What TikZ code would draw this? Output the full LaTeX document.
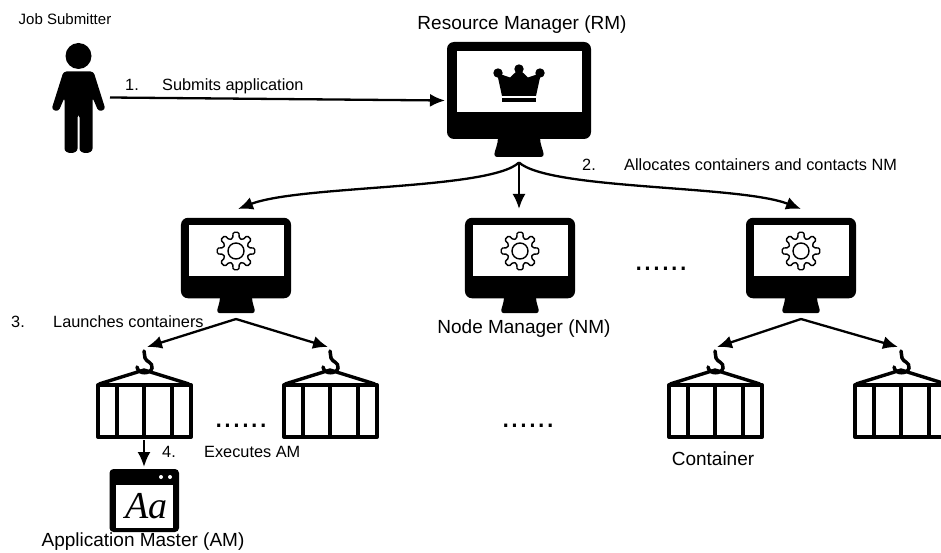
\documentclass[tikz,border=0pt]{standalone}
\usepackage{fontspec}
\setmainfont{Liberation Sans}
\newfontfamily\aafont{Liberation Serif}
\usetikzlibrary{arrows.meta}
\tikzstyle{biglabel}=[inner sep=0,text height=.72em,text depth=.21em,font=\fontsize{19}{19}\selectfont]
\tikzstyle{smalllabel}=[inner sep=0,text height=.72em,text depth=.21em,anchor=west,font=\fontsize{16.3}{16.3}\selectfont]
\tikzstyle{dots}=[inner sep=0,font=\fontsize{32}{32}\selectfont]
\tikzstyle{iconbox}=[inner sep=0,outer sep=0,rectangle]
\tikzset{rmbox/.style={iconbox,minimum width=148pt,minimum height=124pt}}
\tikzset{nmbox/.style={iconbox,minimum width=114pt,minimum height=110pt}}
\tikzset{crate/.style={iconbox,minimum width=96pt,minimum height=93pt}}
\tikzset{flow/.style={-{Latex[length=15pt,width=13pt]},line width=2.3pt}}
\tikzset{monitor/.pic={
    \fill[rounded corners=7pt] (-72,-57.5) rectangle (72,39.5);
    \fill[white] (-62,-48.5) rectangle (63,12.5);
    \fill[rounded corners=3pt] (-21,35) .. controls (-21,45) and (-24,50) .. (-25,57.5) -- (25,57.5) .. controls (24,50) and (21,45) .. (21,35) -- cycle;
}}
\tikzset{nodemanager/.pic={
    \pic[xscale=.764,yscale=.83] {monitor};
    \draw[line width=1.4pt,rounded corners=1.5pt,shift={(0,-14.5)}] (14:13) \foreach \a in {45,90,...,315} { -- (\a-14:13) -- (\a-9:19) -- (\a+9:19) -- (\a+14:13)} -- (346:13) -- (351:19) -- (369:19) -- cycle;
    \draw[line width=1.4pt,shift={(0,-14.5)}] (0,0) circle (8);
}}
\tikzset{crown/.pic={
    \fill (-21,-26.5) circle (4.7) (0,-30.5) circle (4.7) (21,-26.5) circle (4.7);
    \fill (-22,-26.5) -- (-9,-22) -- (0,-30.5) -- (9,-22) -- (22,-26.5) -- (17,-3.5) -- (-17,-3.5) -- cycle;
    \fill (-17,-1.5) rectangle (17,2.5);
}}
\tikzset{container/.pic={
    \draw[line width=4pt,line join=round] (-46,-8) rectangle (47,44);
    \draw[line width=3.8pt] (-27,-8) -- (-27,44) (0,-8) -- (0,44) (28,-8) -- (28,44);
    \draw[line width=3.4pt,line join=round] (-45,-9) -- (0,-23) -- (45,-9);
    \draw[line width=3.5pt,line cap=round] (0,-42) -- (1,-35) .. controls (2,-31) and (9,-31) .. (8,-25) .. controls (7,-19) and (-6,-18) .. (-7,-26);
}}
\tikzset{person/.pic={
    \fill (0,-41.5) circle (13);
    \fill[rounded corners=3pt] (-15,-26) -- (15,-26) -- (27,12) -- (20,14) -- (14,0) -- (14,48) .. controls (14,57) and (1,57) .. (1,48) -- (1,17) -- (-1,17) -- (-1,48) .. controls (-1,57) and (-14,57) .. (-14,48) -- (-14,0) -- (-20,14) -- (-27,12) -- cycle;
}}
\tikzset{appwindow/.pic={
    \fill[rounded corners=4pt] (-35,-31) rectangle (34.5,32);
    \fill[white] (-29,-15) rectangle (28.5,27.5);
    \fill[white] (16.5,-23) circle (2) (25.5,-23) circle (2);
    \node[inner sep=0,font=\aafont\itshape\fontsize{38}{38}\selectfont] (Aa) at (2,6) {Aa};
}}
\begin{document}
\begin{tikzpicture}[x=1pt,y=-1pt]
  \useasboundingbox (0,0) rectangle (941,553);
  \draw (65,22) node[biglabel,font=\fontsize{15}{15}\selectfont] (JobLabel) {Job Submitter};
  \draw (522,27) node[biglabel] (RMLabel) {Resource Manager (RM)};
  \draw (524,331) node[biglabel] (NMLabel) {Node Manager (NM)};
  \draw (713,463) node[biglabel] (ContLabel) {Container};
  \draw (143,544) node[biglabel] (AMLabel) {Application Master (AM)};

  %% Job submitter and resource manager
  \draw (78.5,97.5) pic {person};
  \draw (78.5,97.5) node[iconbox,minimum width=63pt,minimum height=110pt] (Job) {};
  \draw (519,99.5) pic {monitor};
  \draw (519,99.5) pic {crown};
  \draw (519,100.5) node[rmbox] (RM) {};

  %% Node managers
  \draw (236,265.5) pic {nodemanager};
  \draw (520,265.5) pic {nodemanager};
  \draw (801,265.5) pic {nodemanager};
  \draw (236,264) node[nmbox] (NM1) {};
  \draw (520,264) node[nmbox] (NM2) {};
  \draw (801,264) node[nmbox] (NM3) {};

  %% Containers
  \draw (144,393) pic {container};
  \draw (330,393) pic {container};
  \draw (715,393) pic {container};
  \draw (901,393) pic {container};
  \draw (144,393.5) node[crate] (C1) {};
  \draw (330,393.5) node[crate] (C2) {};
  \draw (715,393.5) node[crate] (C3) {};
  \draw (901,393.5) node[crate] (C4) {};

  \draw (144.5,500) pic {appwindow};
  \draw (144.5,499) node[iconbox,minimum width=69pt,minimum height=64pt] (AM) {};

  \draw[flow] (Job.east) -- (RM.west);
  \draw[flow] (RM.south) .. controls (490,190) and (300,185) .. ([xshift=2pt]NM1.north);
  \draw[flow] (RM.south) -- (RM.south |- NM2.north);
  \draw[flow] (RM.south) .. controls (550,190) and (740,185) .. (NM3.north);
  \draw[flow] (NM1.south) -- ([xshift=3pt]C1.north);
  \draw[flow] (NM1.south) -- ([xshift=-2pt]C2.north);
  \draw[flow] (NM3.south) -- ([xshift=2pt]C3.north);
  \draw[flow] (NM3.south) -- ([xshift=-3pt]C4.north);
  \draw[flow] (C1.south) -- (C1.south |- AM.north);

  %% Step labels
  \draw (125,88) node[smalllabel] (S1) {1.};
  \draw (162,88) node[smalllabel] (S1text) {Submits application};
  \draw (582,168) node[smalllabel] (S2) {2.};
  \draw (624,168) node[smalllabel] (S2text) {Allocates containers and contacts NM};
  \draw (11,325) node[smalllabel] (S3) {3.};
  \draw (53,325) node[smalllabel] (S3text) {Launches containers};
  \draw (162,455) node[smalllabel] (S4) {4.};
  \draw (204,455) node[smalllabel] (S4text) {Executes AM};

  %% Extends on
  \draw (661,269) node[dots] (More1) {......};
  \draw (241,426) node[dots] (More2) {......};
  \draw (528,426) node[dots] (More3) {......};
\end{tikzpicture}
\end{document}
